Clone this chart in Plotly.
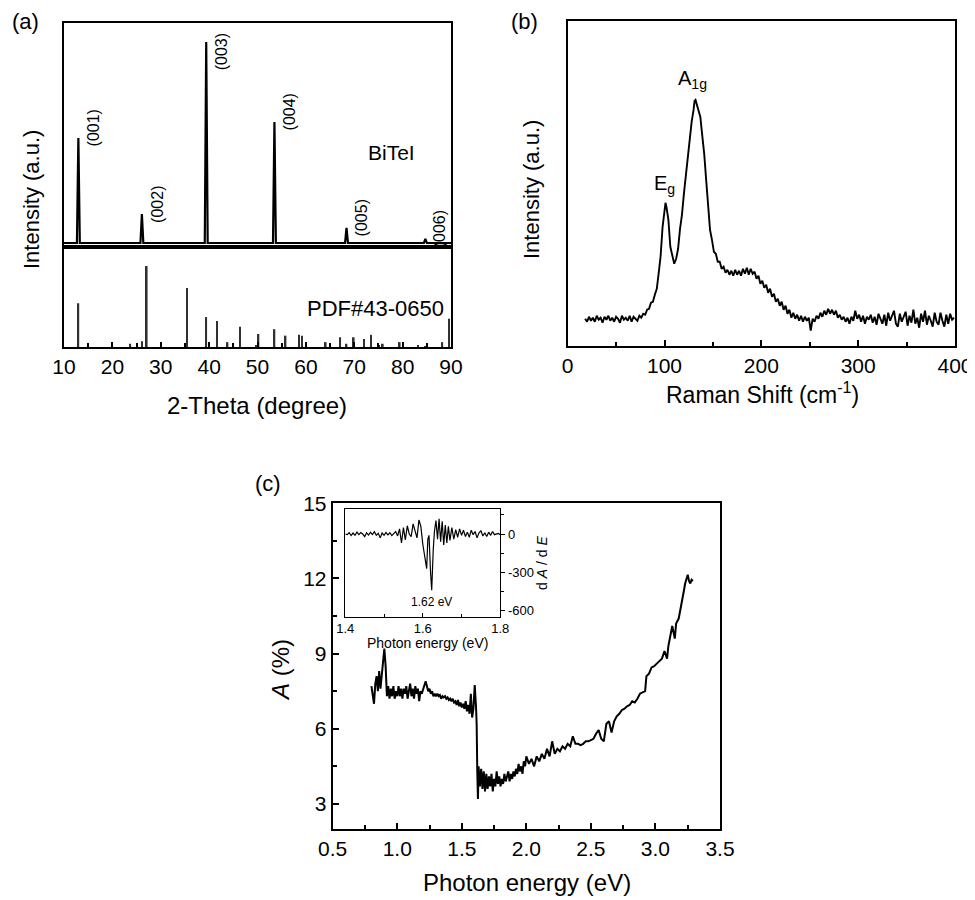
import plotly.graph_objects as go

W, H = 975, 900
OFF = 8  # the page body margin pushes the figure 8 px right and down
FONT = "Liberation Sans, Arial, Helvetica, sans-serif"

# (a) XRD of the BiTeI sample: peak positions (2-theta) and relative heights
xrd_peak_pos = [12.97, 26.1, 39.4, 53.5, 68.4, 84.7]
xrd_peak_int = [52.2, 14.4, 100.0, 60.2, 7.5, 2.0]
xrd_peak_hkl = ["(001)", "(002)", "(003)", "(004)", "(005)", "(006)"]

# (a) reference card PDF#43-0650 sticks
pdf_pos = [12.97, 23.7, 26.1, 27.1, 35.4, 39.4, 41.6, 43.8, 46.4, 49.7, 50.2,
           53.5, 55.8, 58.6, 59.2, 64.1, 67.1, 68.4, 69.9, 72.0, 73.5, 75.1,
           75.9, 79.4, 83.2, 84.7, 88.2, 89.6]
pdf_int = [54, 4, 7, 100, 73, 37, 32, 6, 25, 2, 16,
           22, 14, 15, 14, 6, 12, 4, 12, 10, 15, 2,
           4, 6, 2, 1, 6, 35]

# (b) Raman spectrum
raman_shift = [18, 20, 22, 24, 26, 28, 30, 32, 34, 36, 38, 40, 42, 44, 46, 48, 50, 52, 54, 56,
               58, 60, 62, 64, 66, 68, 70, 72, 74, 76, 78,
               80, 82, 84, 86, 88, 90, 92, 94, 96, 98, 100, 101, 102, 104, 106, 108, 110, 112, 114,
               116, 118, 120, 122, 124, 126, 128, 130, 131, 132, 133, 134, 135, 137, 139, 141, 143,
               145, 147, 149, 151, 153, 155, 157, 159, 161, 163, 165, 167, 169, 171, 173, 175, 177,
               179, 181, 183, 185, 187, 189, 191, 193, 195, 197, 199, 201, 203, 205, 207, 209, 211,
               213, 215, 217, 219, 221, 223, 225, 227, 229, 231, 233, 235, 237, 239, 241, 243, 245,
               247, 249, 251, 253, 255, 257, 259, 261, 263, 265, 267, 269, 271, 273, 275, 277, 279,
               281, 283, 285, 287, 289, 291, 293, 295, 297, 299, 301, 303, 305, 307, 309, 311, 313,
               315, 317, 319, 321, 323, 325, 327, 329, 331, 333, 335, 337, 339, 341, 343, 345, 347,
               349, 351, 353, 355, 357, 359, 361, 363, 365, 367, 369, 371, 373, 375, 377, 379, 381,
               383, 385, 387, 389, 391, 393, 395, 397, 399]
raman_int = [27, 24, 29, 25, 28, 24, 30, 26, 28, 23, 29, 26, 30, 25, 28, 24, 29, 27, 23, 30,
             26, 28, 25, 30, 24, 29, 27, 25, 30, 28, 32,
             31, 36, 37, 43, 44, 51, 57, 73, 90, 119, 137, 143, 139, 126, 99, 90, 82, 87, 97,
             117, 131, 152, 170, 192, 206, 224, 236, 245, 246, 242, 241, 234, 229, 210, 192, 166,
             142, 116, 106, 94, 92, 84, 84, 77, 79, 73, 76, 71, 75, 70, 76, 71, 75,
             70, 77, 72, 78, 71, 77, 72, 74, 67, 70, 62, 65, 58, 61, 53, 57, 49,
             52, 44, 47, 40, 44, 36, 40, 32, 36, 28, 33, 27, 31, 25, 30, 24, 29,
             25, 28, 15, 27, 24, 30, 27, 33, 29, 35, 31, 37, 32, 36, 31, 35, 28,
             31, 26, 29, 24, 28, 22, 29, 25, 35, 27, 31, 24, 30, 22, 29, 26, 31,
             23, 29, 21, 32, 26, 22, 31, 20, 33, 25, 30, 35, 22, 19, 32, 24, 29,
             34, 20, 30, 23, 36, 22, 28, 18, 32, 24, 35, 21, 30, 25, 19, 33, 24,
             21, 33, 25, 19, 31, 22, 32, 26, 28]

# (c) absorption A (%) vs photon energy (eV)
abs_energy = [0.80, 0.81, 0.82, 0.83, 0.84, 0.85, 0.86, 0.87, 0.88, 0.89, 0.90, 0.91, 0.92,
              0.93, 0.94, 0.95, 0.96, 0.97, 0.98, 0.99, 1.00, 1.01, 1.02, 1.03, 1.04, 1.05,
              1.06, 1.07, 1.08, 1.09, 1.10, 1.11, 1.12, 1.13, 1.14, 1.15, 1.16, 1.17, 1.18,
              1.19, 1.20, 1.21, 1.22, 1.23, 1.24, 1.25, 1.26, 1.27, 1.28, 1.29, 1.30, 1.31,
              1.32, 1.33, 1.34, 1.35, 1.36, 1.37, 1.38, 1.39, 1.40, 1.41, 1.42, 1.43, 1.44,
              1.45, 1.46, 1.47, 1.48, 1.49, 1.50, 1.51, 1.52, 1.53, 1.54, 1.55, 1.56, 1.57,
              1.58, 1.59, 1.60, 1.61, 1.615, 1.62, 1.625, 1.63, 1.64, 1.65, 1.66, 1.67, 1.68,
              1.69, 1.70, 1.71, 1.72, 1.73, 1.74, 1.75, 1.76, 1.77, 1.78, 1.79, 1.80, 1.81,
              1.82, 1.83, 1.84, 1.85, 1.86, 1.87, 1.88, 1.89, 1.90, 1.91, 1.92, 1.93, 1.94,
              1.95, 1.96, 1.97, 1.98, 1.99, 2.00, 2.02, 2.04, 2.06, 2.08, 2.10, 2.12, 2.14,
              2.16, 2.18, 2.20, 2.22, 2.24, 2.26, 2.28, 2.30, 2.32, 2.34, 2.36, 2.38, 2.40,
              2.42, 2.44, 2.46, 2.48, 2.50, 2.52, 2.54, 2.56, 2.58, 2.60, 2.62, 2.64, 2.66,
              2.68, 2.70, 2.72, 2.74, 2.76, 2.78, 2.80, 2.82, 2.84, 2.86, 2.88, 2.90, 2.92,
              2.93, 2.95, 2.97, 2.99, 3.01, 3.03, 3.05, 3.07, 3.09, 3.10, 3.12, 3.13, 3.15,
              3.16, 3.18, 3.20, 3.22, 3.23, 3.25, 3.26, 3.27, 3.28, 3.29]
abs_percent = [7.7, 7.3, 7.0, 7.8, 8.1, 7.5, 8.3, 7.6, 8.2, 8.6, 9.2, 8.5, 7.3,
               7.7, 7.2, 7.6, 7.3, 7.7, 7.2, 7.5, 7.3, 7.7, 7.3, 7.6, 7.2, 7.6,
               7.4, 7.7, 7.2, 7.5, 7.8, 7.3, 7.6, 7.2, 7.7, 7.4, 7.6, 7.1, 7.5,
               7.4, 7.6, 7.8, 7.9, 7.7, 7.5, 7.6, 7.4, 7.5, 7.3, 7.4, 7.3, 7.4,
               7.3, 7.35, 7.2, 7.3, 7.25, 7.3, 7.2, 7.25, 7.15, 7.2, 7.1, 7.2, 7.05,
               7.1, 6.95, 7.15, 6.9, 7.05, 6.85, 7.0, 6.8, 7.1, 6.7, 6.95, 6.6, 7.4,
               6.45, 6.8, 7.75, 6.9, 6.2, 4.3, 3.2, 4.5, 3.7, 4.4, 3.6, 4.3, 3.5,
               4.2, 3.6, 4.1, 3.7, 4.2, 3.5, 4.0, 3.7, 4.3, 3.8, 4.1, 3.7, 4.0,
               3.8, 4.2, 3.9, 4.1, 4.3, 3.9, 4.2, 4.0, 4.3, 4.1, 4.4, 4.2, 4.6,
               4.3, 4.5, 4.2, 4.7, 4.5, 4.9, 4.6, 4.8, 4.5, 4.9, 4.7, 5.0, 4.8,
               5.2, 4.9, 5.5, 5.0, 5.2, 5.1, 5.3, 5.2, 5.4, 5.3, 5.7, 5.4, 5.4,
               5.35, 5.4, 5.5, 5.5, 5.55, 5.6, 5.8, 5.95, 5.6, 5.5, 6.2, 6.3, 5.85,
               6.3, 6.5, 6.6, 6.75, 6.8, 6.9, 6.95, 7.1, 7.05, 7.2, 7.4, 7.45, 7.5,
               8.1, 8.2, 8.45, 8.5, 8.6, 8.7, 8.8, 9.1, 8.8, 9.3, 9.9, 10.1, 9.6,
               10.2, 10.4, 10.9, 11.5, 11.8, 12.15, 11.9, 11.8, 11.95, 11.9]

# (c) inset: dA/dE near the band edge
deriv_energy = [1.400, 1.405, 1.410, 1.415, 1.420, 1.425, 1.430, 1.435, 1.440, 1.445, 1.450,
                1.455, 1.460, 1.465, 1.470, 1.475, 1.480, 1.485, 1.490, 1.495, 1.500, 1.505,
                1.510, 1.515, 1.520, 1.525, 1.530, 1.535, 1.540, 1.545, 1.550, 1.555, 1.560,
                1.565, 1.570, 1.575, 1.580, 1.585, 1.590, 1.595, 1.600, 1.605, 1.610, 1.613,
                1.616, 1.620, 1.623, 1.627, 1.630, 1.634, 1.638, 1.642, 1.646, 1.650, 1.654,
                1.658, 1.662, 1.666, 1.670, 1.675, 1.680, 1.685, 1.690, 1.695, 1.700, 1.705,
                1.710, 1.715, 1.720, 1.725, 1.730, 1.735, 1.740, 1.745, 1.750, 1.755, 1.760,
                1.765, 1.770, 1.775, 1.780, 1.785, 1.790, 1.795, 1.800]
deriv_value = [0, -5, 10, -12, 8, -10, 15, -5, 12, 0, -20,
               10, -8, 14, -4, 18, -10, 6, -30, 8, -10, 12,
               -6, 10, -12, 4, 20, -15, 40, -70, 50, -45, 65,
               0, -20, 80, 30, -30, 110, 60, -80, -190, -270, -40,
               -10, -300, -440, -120, 20, 105, -40, 120, -60, 100, -85,
               70, -70, 60, -50, 50, -40, 35, -25, 40, -10, 30,
               -20, 15, -25, 30, -5, 20, -30, 10, 25, -15, 10,
               -20, 15, -10, 20, -5, 0, 5, -5]
deriv_ticks = [-600, -300, 0]


def px(x):
    return (x - OFF) / W


def py(y):
    return 1 - (y - OFF) / H


def frame(**kw):
    base = dict(showline=True, linecolor="black", linewidth=2, mirror=True, automargin=False,
                showgrid=False, zeroline=False, ticks="inside", tickcolor="black",
                tickwidth=1.5, tickfont=dict(family=FONT, size=21, color="black"))
    base.update(kw)
    return base


# upper XRD trace built from the peak list (narrow peaks on a flat baseline)
xrd_x, xrd_y = [10.0], [0.0]
for p, i in zip(xrd_peak_pos, xrd_peak_int):
    xrd_x += [p - 0.3, p, p + 0.3]
    xrd_y += [0.0, i, 0.0]
xrd_x.append(90.0)
xrd_y.append(0.0)

fig = go.Figure()

fig.add_trace(go.Bar(x=pdf_pos, y=pdf_int, width=0.35, marker=dict(color="#303030", line=dict(width=0)),
                     xaxis="x", yaxis="y", showlegend=False))
fig.add_trace(go.Scatter(x=xrd_x, y=xrd_y, mode="lines", line=dict(color="black", width=2.2),
                         xaxis="x2", yaxis="y2", showlegend=False))
fig.add_trace(go.Scatter(x=raman_shift, y=raman_int, mode="lines", line=dict(color="black", width=1.9),
                         xaxis="x3", yaxis="y3", showlegend=False))
fig.add_trace(go.Scatter(x=abs_energy, y=abs_percent, mode="lines", line=dict(color="black", width=2),
                         xaxis="x4", yaxis="y4", showlegend=False))
fig.add_trace(go.Scatter(x=deriv_energy, y=deriv_value, mode="lines", line=dict(color="black", width=1.2),
                         xaxis="x5", yaxis="y5", showlegend=False))

xa = [px(64), px(451)]
small = dict(family=FONT, size=13, color="black")

fig.update_layout(
    template="none",
    width=W, height=H, margin=dict(l=0, r=0, t=0, b=0, autoexpand=False), autosize=False,
    paper_bgcolor="white", plot_bgcolor="white", showlegend=False,
    xaxis=frame(domain=xa, range=[10, 90], anchor="y", tick0=10, dtick=10, ticklen=5,
                minor=dict(ticks="inside", dtick=5, tick0=10, ticklen=4, tickcolor="black")),
    yaxis=frame(domain=[py(347), py(247)], range=[0, 123.5], anchor="x",
                showticklabels=False, ticks=""),
    xaxis2=frame(domain=xa, range=[10, 90], anchor="y2", showticklabels=False, ticks=""),
    yaxis2=frame(domain=[py(247), py(23)], range=[-2, 109.5], anchor="x2",
                 showticklabels=False, ticks=""),
    xaxis3=frame(domain=[px(567.7), px(955)], range=[0, 400], anchor="y3", tick0=0, dtick=100,
                 ticklen=6, minor=dict(ticks="inside", dtick=50, tick0=0, ticklen=4, tickcolor="black")),
    yaxis3=frame(domain=[py(345.7), py(21)], range=[0, 325], anchor="x3",
                 showticklabels=False, ticks=""),
    xaxis4=frame(domain=[px(332.7), px(720)], range=[0.5, 3.5], anchor="y4", tick0=0.5, dtick=0.5,
                 tickformat=".1f", ticklen=6,
                 minor=dict(ticks="inside", dtick=0.25, tick0=0.5, ticklen=4, tickcolor="black")),
    yaxis4=frame(domain=[py(829), py(503.3)], range=[2, 15], anchor="x4", tick0=0, dtick=3, ticklen=6,
                 minor=dict(ticks="inside", dtick=1.5, tick0=0, ticklen=4, tickcolor="black")),
    xaxis5=frame(domain=[px(345.3), px(500.3)], range=[1.4, 1.8], anchor="y5", tick0=1.4, dtick=0.2,
                 tickformat=".1f", ticklen=4, linewidth=1.2, tickwidth=1, tickfont=small,
                 minor=dict(ticks="inside", dtick=0.1, tick0=1.4, ticklen=3, tickcolor="black")),
    yaxis5=frame(domain=[py(616.7), py(509)], range=[-647, 196], anchor="x5", side="right",
                 tickmode="array", tickvals=deriv_ticks, ticktext=[str(v) for v in deriv_ticks],
                 ticks="outside", ticklen=4, linewidth=1.2, tickwidth=1, tickfont=small,
                 minor=dict(ticks="outside", tickmode="linear", tick0=0, dtick=150, ticklen=3,
                            tickcolor="black")),
)

ann = []


def label(text, x, y, size, angle=0):
    ann.append(dict(text=text, x=px(x), y=py(y), xref="paper", yref="paper", showarrow=False,
                    textangle=angle, xanchor="center", yanchor="middle",
                    font=dict(family=FONT, size=size, color="black")))


# panel letters
label("(a)", 25, 21, 22)
label("(b)", 524, 21, 22)
label("(c)", 268, 483, 22)

# axis titles
label("Intensity (a.u.)", 31, 200, 22, -90)
label("2-Theta (degree)", 257, 405, 24)
label("Intensity (a.u.)", 532, 190, 22, -90)
label("Raman Shift (cm<sup>-1</sup>)", 762, 393, 23)
label("<i>A</i> (%)", 280, 670, 24, -90)
label("Photon energy (eV)", 527, 882, 24)
label("Photon energy (eV)", 427, 643, 14)
label("d <i>A</i> / d <i>E</i>", 542, 563, 14, -90)

# hkl labels next to BiTeI peaks
for p, i, hkl in zip(xrd_peak_pos, xrd_peak_int, xrd_peak_hkl):
    ann.append(dict(text=hkl, x=p, y=min(i + 5, 95), xref="x2", yref="y2", showarrow=False,
                    textangle=-90, xshift=15, xanchor="center", yanchor="middle",
                    font=dict(family=FONT, size=16, color="black")))

ann.append(dict(text="BiTeI", x=77.8, y=44.8, xref="x2", yref="y2", showarrow=False,
                font=dict(family=FONT, size=21, color="black")))
ann.append(dict(text="PDF#43-0650", x=74.3, y=48, xref="x", yref="y", showarrow=False,
                font=dict(family=FONT, size=22, color="black")))
ann.append(dict(text="E<sub>g</sub>", x=100.4, y=161, xref="x3", yref="y3", showarrow=False,
                font=dict(family=FONT, size=20, color="black")))
ann.append(dict(text="A<sub>1g</sub>", x=129.4, y=266, xref="x3", yref="y3", showarrow=False,
                font=dict(family=FONT, size=20, color="black")))
ann.append(dict(text="1.62 eV", x=1.623, y=-530, xref="x5", yref="y5", showarrow=False,
                font=dict(family=FONT, size=12, color="black")))

fig.update_layout(annotations=ann)

fig.write_html("out.html")
